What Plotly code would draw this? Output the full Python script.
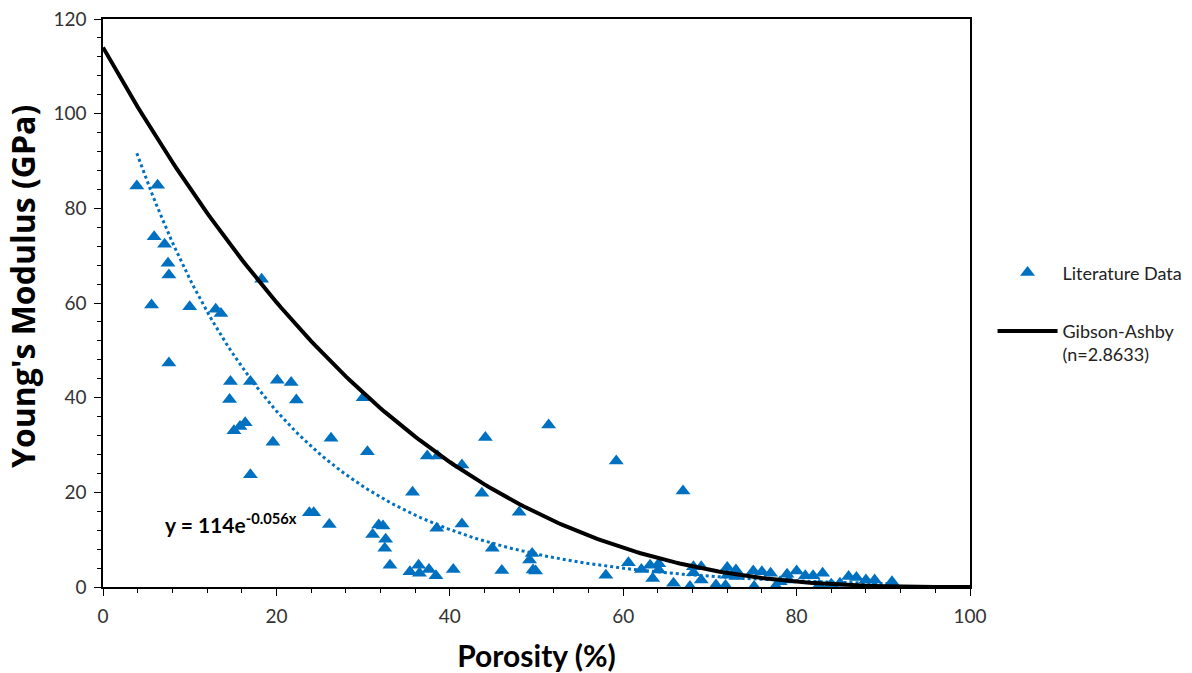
import numpy as np
import plotly.graph_objects as go

# Literature data: porosity (%) and Young's modulus (GPa)
porosity = [3.9, 6.3, 5.9, 7.1, 7.5, 7.6, 5.6, 7.6, 10.0, 13.0, 13.6, 18.3,
            14.7, 17.0, 20.1, 21.7, 14.6, 22.3, 30.0, 15.1, 15.8, 16.4, 19.6, 26.3,
            30.5, 17.0, 23.8, 24.3, 26.1, 31.1, 31.8, 32.3, 32.6, 32.5, 33.1,
            44.1, 51.4, 59.2, 37.4, 38.6, 41.4, 35.7, 43.7, 48.0, 38.5, 41.4,
            44.9, 49.5, 49.2, 49.6, 49.9, 46.0, 40.4, 35.4, 36.4, 36.5, 37.6, 38.4,
            58.0, 60.6, 62.1, 63.1, 63.4, 64.1, 64.1, 65.8, 66.9, 67.7, 68.1, 68.1,
            69.0, 69.0, 70.7, 71.8, 72.0, 72.0, 73.0, 73.0, 75.0, 75.1, 76.0, 77.0,
            77.6, 78.1, 78.9, 79.1, 80.0, 81.0, 81.9, 82.6, 83.0, 84.0, 85.0, 86.0,
            86.9, 88.0, 89.0, 89.0, 91.0]
modulus = [84.7, 84.9, 74.0, 72.4, 68.4, 65.9, 59.6, 47.3, 59.2, 58.7, 57.8, 65.0,
           43.4, 43.4, 43.7, 43.2, 39.6, 39.5, 40.0, 33.0, 33.9, 34.7, 30.6, 31.4,
           28.6, 23.7, 15.7, 15.7, 13.2, 11.1, 13.1, 12.9, 10.1, 8.2, 4.6,
           31.6, 34.2, 26.6, 27.7, 27.7, 25.8, 20.0, 19.8, 15.8, 12.4, 13.3,
           8.2, 7.1, 5.7, 3.6, 3.4, 3.5, 3.7, 3.2, 4.6, 2.9, 3.7, 2.4,
           2.5, 5.1, 3.7, 4.6, 1.8, 4.9, 3.6, 0.8, 20.3, 0.1, 4.3, 3.0,
           4.3, 1.5, 0.4, 0.3, 4.1, 2.5, 3.6, 2.2, 3.4, 0.1, 3.2, 2.9,
           0.2, 1.1, 2.7, 1.5, 3.4, 2.4, 2.4, 0.4, 2.9, 0.6, 0.8, 2.2,
           2.0, 1.5, 1.5, 0.1, 1.1]

# Model parameters
E0 = 114.0          # Gibson-Ashby solid modulus (GPa)
n_exp = 2.8633      # Gibson-Ashby exponent
trend_a = 114.0     # exponential trendline coefficient
trend_b = -0.056    # exponential trendline rate

x_ga = np.linspace(0, 100, 201)
y_ga = E0 * (1 - x_ga / 100.0) ** n_exp

x_tr = np.linspace(min(porosity), max(porosity), 200)
y_tr = trend_a * np.exp(trend_b * x_tr)

blue = "#0070C0"
font_family = "Lato, 'Open Sans', sans-serif"
ytitle_family = "'Open Sans', Lato, sans-serif"

fig = go.Figure()
fig.add_trace(go.Scatter(
    x=x_tr, y=y_tr, mode="lines", showlegend=False,
    line=dict(color=blue, width=3, dash="dot"), hoverinfo="skip"))
fig.add_trace(go.Scatter(
    x=porosity, y=modulus, mode="markers", name="Literature Data",
    marker=dict(symbol="triangle-up", size=13, color=blue), legend="legend"))
fig.add_trace(go.Scatter(
    x=x_ga, y=y_ga, mode="lines", name="Gibson-Ashby<br>(n=2.8633)",
    line=dict(color="black", width=4), legend="legend2"))

fig.add_annotation(
    x=6.9, y=13.5, xref="x", yref="y", xanchor="left", yanchor="middle",
    text="<b>y = 114e<sup>-0.056x</sup></b>", showarrow=False,
    font=dict(size=21, color="black", family=font_family))

axis_common = dict(
    showgrid=False, zeroline=False, showline=True, linecolor="black",
    linewidth=1.5, mirror=True, ticks="outside", ticklen=7, tickwidth=1,
    tickcolor="black", tickfont=dict(size=19, color="#333", family=font_family),
    ticklabelstandoff=4,
    minor=dict(ticks="outside", ticklen=4, tickcolor="black", dtick=4, showgrid=False),
    automargin=False,
)

legend_common = dict(
    xanchor="left", yanchor="middle", valign="top", itemwidth=60,
    font=dict(size=18, family=font_family, color="#222"),
    bgcolor="rgba(0,0,0,0)", borderwidth=0,
)

fig.update_layout(
    width=1192, height=673,
    paper_bgcolor="white", plot_bgcolor="white",
    margin=dict(l=103, r=222, t=19, b=86, autoexpand=False),
    font=dict(family=font_family, color="black"),
    xaxis=dict(range=[0, 100], tick0=0, dtick=20,
               title=dict(text="<b>Porosity (%)</b>", font=dict(size=30, family=font_family), standoff=20),
               **axis_common),
    yaxis=dict(range=[0, 120], tick0=0, dtick=20,
               title=dict(text="<b>&nbsp;&nbsp;&nbsp;&nbsp;Young's Modulus (GPa)</b>",
                          font=dict(size=32, family=ytitle_family), standoff=8),
               **axis_common),
    legend=dict(x=1.026, y=0.553, **legend_common),
    legend2=dict(x=1.026, y=0.43, **legend_common),
)

fig.write_html("out.html", config={"displayModeBar": False},
               post_script="document.body.style.margin='0';")
